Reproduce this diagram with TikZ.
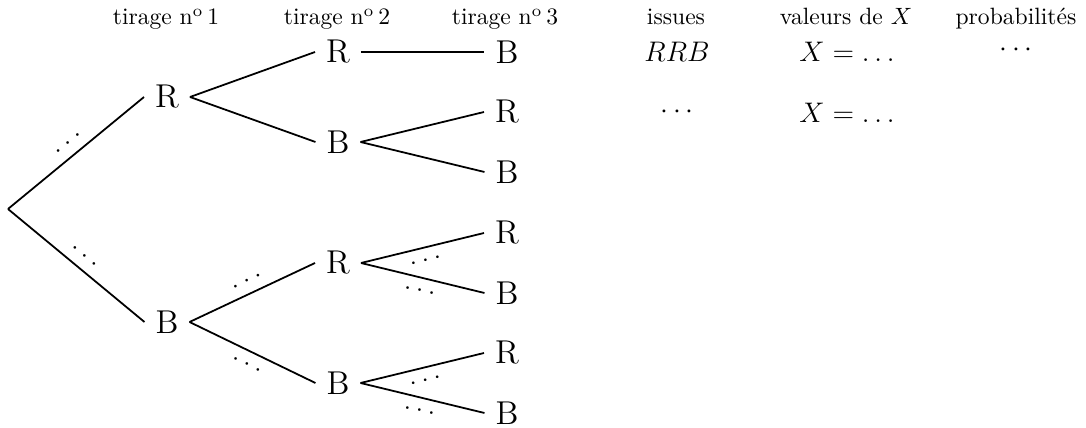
\documentclass[tikz,border=0pt]{standalone}
\usepackage{fontspec}
\begin{document}
\begin{tikzpicture}[x=0.424pt, y=-0.424pt,
  big/.style={font=\fontsize{13}{15}\selectfont},
  leaf/.style={font=\fontsize{14}{16}\selectfont, inner sep=4.5pt},
  head/.style={anchor=base, font=\normalsize},
  branch/.style={line width=0.75pt},
  dotsab/.style={big, sloped, above, inner sep=4.5pt},
  dotsbe/.style={big, sloped, below, inner sep=4.5pt}]
\path[use as bounding box] (0,0) rectangle (1086,428);

% column headers
\node[head] (h1) at (166,25) {tirage n\textsuperscript{o}\,1};
\node[head] (h2) at (337,25) {tirage n\textsuperscript{o}\,2};
\node[head] (h3) at (505,25) {tirage n\textsuperscript{o}\,3};
\node[head] (h4) at (676,25) {issues};
\node[head] (h5) at (846,25) {valeurs de $X$};
\node[head] (h6) at (1016,25) {probabilités};

% tree
\coordinate (root) at (8,209);
\node[leaf] (r1) at (167,97)  {R};
\node[leaf] (b1) at (167,322) {B};

\node[leaf] (r1r) at (338,52)  {R};
\node[leaf] (r1b) at (338,142) {B};
\node[leaf] (b1r) at (338,263) {R};
\node[leaf] (b1b) at (338,383) {B};

\node[leaf] (r1rb) at (507,52)  {B};
\node[leaf] (r1br) at (507,112) {R};
\node[leaf] (r1bb) at (507,172) {B};
\node[leaf] (b1rr) at (507,233) {R};
\node[leaf] (b1rb) at (507,293) {B};
\node[leaf] (b1br) at (507,353) {R};
\node[leaf] (b1bb) at (507,413) {B};

\draw[branch] (root) -- node[dotsab] {$\dots$} (r1.west);
\draw[branch] (root) -- node[dotsab] {$\dots$} (b1.west);

\draw[branch] (r1.east) -- (r1r.west);
\draw[branch] (r1.east) -- (r1b.west);
\draw[branch] (b1.east) -- node[dotsab] {$\dots$} (b1r.west);
\draw[branch] (b1.east) -- node[dotsbe] {$\dots$} (b1b.west);

\draw[branch] (r1r.east) -- (r1rb.west);
\draw[branch] (r1b.east) -- (r1br.west);
\draw[branch] (r1b.east) -- (r1bb.west);
\draw[branch] (b1r.east) -- node[dotsbe] {$\dots$} (b1rr.west);
\draw[branch] (b1r.east) -- node[dotsbe] {$\dots$} (b1rb.west);
\draw[branch] (b1b.east) -- node[dotsbe] {$\dots$} (b1br.west);
\draw[branch] (b1b.east) -- node[dotsbe] {$\dots$} (b1bb.west);

% outcome table
\node[big, anchor=base] (i1) at (677,62) {$RRB$};
\node[big, anchor=base] (v1) at (847,62) {$X=\dots$};
\node[big] (p1) at (1016,50) {$\cdots$};
\node[big] (i2) at (677,112) {$\cdots$};
\node[big, anchor=base] (v2) at (847,123) {$X=\dots$};
\end{tikzpicture}
\end{document}
